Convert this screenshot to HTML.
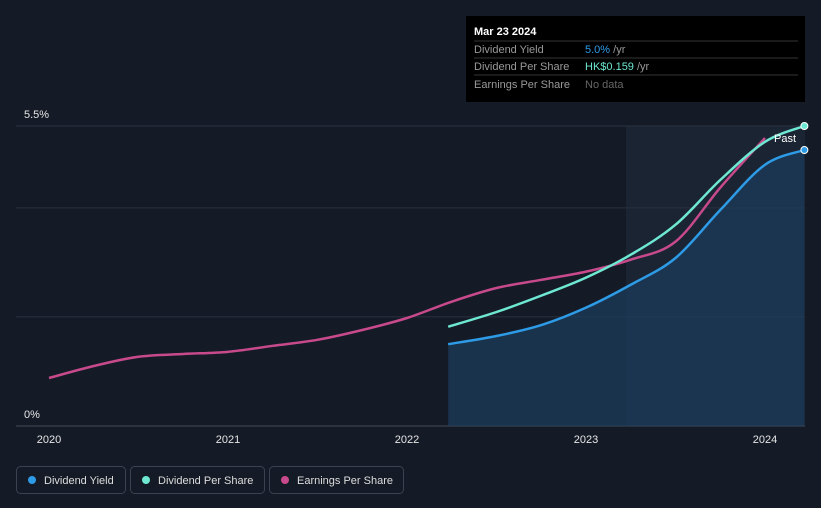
<!DOCTYPE html>
<html><head><meta charset="utf-8"><style>
body{margin:0;background:#151b26;font-family:"Liberation Sans",sans-serif;}
svg{display:block}
</style></head><body>
<svg id="chart" width="821" height="508">
<rect width="821" height="508" fill="#151b26"/>
<rect x="626" y="126" width="179" height="300" fill="#1a2433"/>
<g id="grid"></g>
<g id="series"></g>
<text x="24" y="118" fill="#e6e6e6" font-size="11">5.5%</text>
<text x="24" y="418" fill="#e6e6e6" font-size="11">0%</text>
<text x="774" y="142" fill="#ffffff" font-size="11">Past</text>
<g id="xticks"></g>
<g>
<rect x="466" y="16" width="339" height="86" fill="#000"/>
<text x="474" y="35" fill="#fff" font-size="11" font-weight="bold">Mar 23 2024</text>
<line x1="474" y1="41" x2="798" y2="41" stroke="#333"/>
<text x="474" y="53" fill="#999" font-size="11">Dividend Yield</text>
<text x="585" y="53" fill="#2d9be6" font-size="11">5.0% <tspan fill="#999">/yr</tspan></text>
<line x1="474" y1="58" x2="798" y2="58" stroke="#333"/>
<text x="474" y="70" fill="#999" font-size="11">Dividend Per Share</text>
<text x="585" y="70" fill="#6ee8d2" font-size="11">HK$0.159 <tspan fill="#999">/yr</tspan></text>
<line x1="474" y1="75" x2="798" y2="75" stroke="#333"/>
<text x="474" y="88" fill="#999" font-size="11">Earnings Per Share</text>
<text x="585" y="88" fill="#666" font-size="11">No data</text>
</g>
<g>
<g><rect x="16.5" y="466.5" width="109" height="27" rx="4" fill="none" stroke="#3a4150"/><circle cx="32" cy="480" r="4" fill="#2d9be6"/><text x="44" y="484" fill="#ddd" font-size="11">Dividend Yield</text></g>
<g><rect x="130.5" y="466.5" width="134" height="27" rx="4" fill="none" stroke="#3a4150"/><circle cx="146" cy="480" r="4" fill="#6ee8d2"/><text x="158" y="484" fill="#ddd" font-size="11">Dividend Per Share</text></g>
<g><rect x="269.5" y="466.5" width="134" height="27" rx="4" fill="none" stroke="#3a4150"/><circle cx="285" cy="480" r="4" fill="#c84a8c"/><text x="297" y="484" fill="#ddd" font-size="11">Earnings Per Share</text></g>
</g>
</svg>
<script>
const yearTicks=[2020,2021,2022,2023,2024];
const gridValues=[0,2,4,5.5];
const dyYears=[2022.23,2022.5,2022.75,2023.0,2023.25,2023.5,2023.75,2024.0,2024.22];
const dyValues=[1.50,1.65,1.85,2.17,2.59,3.08,3.96,4.79,5.06];
const dpsYears=[2022.23,2022.5,2022.75,2023.0,2023.25,2023.5,2023.75,2024.0,2024.22];
const dpsValues=[1.82,2.09,2.39,2.72,3.14,3.69,4.51,5.21,5.5];
const epsYears=[2020,2020.25,2020.5,2020.75,2021,2021.25,2021.5,2021.75,2022,2022.25,2022.5,2022.75,2023,2023.25,2023.5,2023.75,2024];
const epsValues=[0.88,1.10,1.27,1.32,1.36,1.47,1.58,1.76,1.98,2.28,2.53,2.68,2.83,3.05,3.38,4.37,5.28];
const NS="http://www.w3.org/2000/svg";
const xs=y=>49+(y-2020)*179;
const ys=v=>426-v*(300/5.5);
function mk(t,a,p){const e=document.createElementNS(NS,t);for(const k in a)e.setAttribute(k,a[k]);p.appendChild(e);return e;}
function curve(X,Y){const P=X.map((x,i)=>[xs(x),ys(Y[i])]);let d="M"+P[0];for(let i=0;i<P.length-1;i++){const p0=P[i-1]||P[i],p1=P[i],p2=P[i+1],p3=P[i+2]||p2;d+=" C"+(p1[0]+(p2[0]-p0[0])/6)+","+(p1[1]+(p2[1]-p0[1])/6)+" "+(p2[0]-(p3[0]-p1[0])/6)+","+(p2[1]-(p3[1]-p1[1])/6)+" "+p2;}return d;}
const grid=document.getElementById('grid');
gridValues.forEach(v=>{const l=mk('line',{x1:16,x2:805,y1:ys(v),y2:ys(v),stroke:v===0?'#444b58':'#2a3140'},grid);

});
const xt=document.getElementById('xticks');
yearTicks.forEach(y=>{const t=mk('text',{x:xs(y),y:443,fill:'#e6e6e6','font-size':11,'text-anchor':'middle'},xt);t.textContent=y;

});
const s=document.getElementById('series');
const dyd=curve(dyYears,dyValues);
const area=mk('path',{d:dyd+" L"+xs(dyYears[dyYears.length-1])+","+ys(0)+" L"+xs(dyYears[0])+","+ys(0)+"Z",fill:'#1d3d5c','fill-opacity':0.7},s);


const e=mk('path',{d:curve(epsYears,epsValues),fill:'none',stroke:'#c84a8c','stroke-width':2.5},s);


const dp=mk('path',{d:curve(dpsYears,dpsValues),fill:'none',stroke:'#6ee8d2','stroke-width':2.5},s);


const dy=mk('path',{d:dyd,fill:'none',stroke:'#2d9be6','stroke-width':2.5},s);


const c1=mk('circle',{cx:xs(dpsYears[dpsYears.length-1]),cy:ys(dpsValues[dpsValues.length-1]),r:3.5,fill:'#6ee8d2',stroke:'#fff','stroke-width':1},s);


const c2=mk('circle',{cx:xs(dyYears[dyYears.length-1]),cy:ys(dyValues[dyValues.length-1]),r:3.5,fill:'#2d9be6',stroke:'#fff','stroke-width':1},s);


</script>
</body></html>
